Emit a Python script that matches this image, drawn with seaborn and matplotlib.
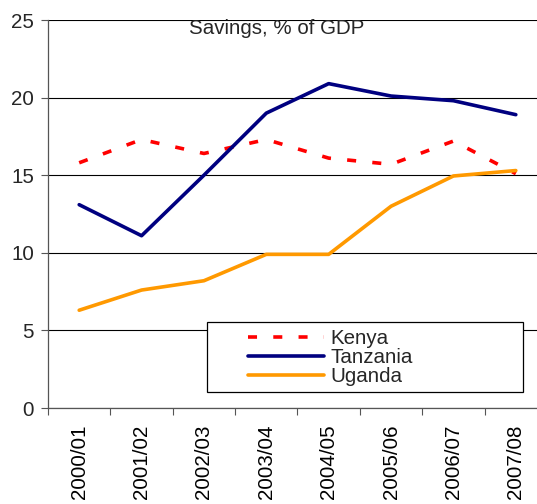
import matplotlib
matplotlib.use("Agg")
import matplotlib.pyplot as plt
import seaborn as sns
import pandas as pd
from matplotlib.patches import Rectangle

years = ["2000/01", "2001/02", "2002/03", "2003/04", "2004/05", "2005/06", "2006/07", "2007/08"]
kenya = [15.8, 17.3, 16.4, 17.3, 16.1, 15.7, 17.2, 15.1]
tanzania = [13.1, 11.1, 15.0, 19.0, 20.9, 20.1, 19.8, 18.9]
uganda = [6.3, 7.6, 8.2, 9.9, 9.9, 13.0, 14.95, 15.3]
series_names = ["Kenya", "Tanzania", "Uganda"]
colors = {"Kenya": "#FF0000", "Tanzania": "#000080", "Uganda": "#FF9900"}
yticks = [0, 5, 10, 15, 20, 25]

sns.set_style("white")
plt.rcParams["font.family"] = ["Liberation Sans", "DejaVu Sans"]

rows = []
for name, vals in zip(series_names, [kenya, tanzania, uganda]):
    for i, v in enumerate(vals):
        rows.append({"idx": i, "value": v, "country": name})
df = pd.DataFrame(rows)

W, H = 537, 504
FS = 14.8
fig = plt.figure(figsize=(W / 100, H / 100), dpi=100)
left, right, top, bottom = 48, 547, 20, 408
ax = fig.add_axes([left / W, 1 - bottom / H, (right - left) / W, (bottom - top) / H])

styles = {"Kenya": (0, (2.5, 4.5)), "Tanzania": "-", "Uganda": "-"}
for name in series_names:
    sub = df[df["country"] == name]
    sns.lineplot(data=sub, x="idx", y="value", ax=ax, color=colors[name],
                 linewidth=2.6, linestyle=styles[name], label=name, zorder=3)

ax.set_xlim(-0.5, len(years) - 0.5)
ax.set_ylim(0, 25)
ax.set_yticks(yticks)
ax.set_yticklabels([str(t) for t in yticks])
ax.set_xticks(range(len(years)))
ax.set_xticklabels(years, rotation=90)
ax.set_xticks([i - 0.5 for i in range(len(years) + 1)], minor=True)
ax.tick_params(axis="x", which="major", length=0, pad=12, labelsize=FS, colors="black")
ax.tick_params(axis="x", which="minor", length=5, width=0.8, color="#555555", bottom=True, direction="out")
ax.tick_params(axis="y", which="major", length=5, width=0.8, color="#555555", left=True, direction="out", pad=5, labelsize=FS)
ax.set_xlabel("")
ax.set_ylabel("")
ax.yaxis.grid(True, color="black", linewidth=0.8)
ax.set_axisbelow(True)
for s in ["top", "right"]:
    ax.spines[s].set_visible(False)
for s in ["left", "bottom"]:
    ax.spines[s].set_color("#555555")
    ax.spines[s].set_linewidth(0.9)

fig.text(277 / W, 1 - 28 / H, "Savings, % of GDP", ha="center", va="center", fontsize=FS)

if ax.legend_:
    ax.legend_.remove()
handles, labels = ax.get_legend_handles_labels()
fig.patches.append(Rectangle((207 / W, 1 - 392 / H), (523 - 207) / W, (392 - 322) / H,
                             transform=fig.transFigure, facecolor="white", edgecolor="black",
                             linewidth=0.9, zorder=5))
leg = fig.legend(handles, labels, loc="upper left", bbox_to_anchor=(248 / W, 1 - 329 / H),
                 frameon=False, borderpad=0, borderaxespad=0, handlelength=3.7,
                 handletextpad=0.3, labelspacing=0.0, fontsize=FS)
leg.set_zorder(6)

fig.savefig("out.png", dpi=100)
